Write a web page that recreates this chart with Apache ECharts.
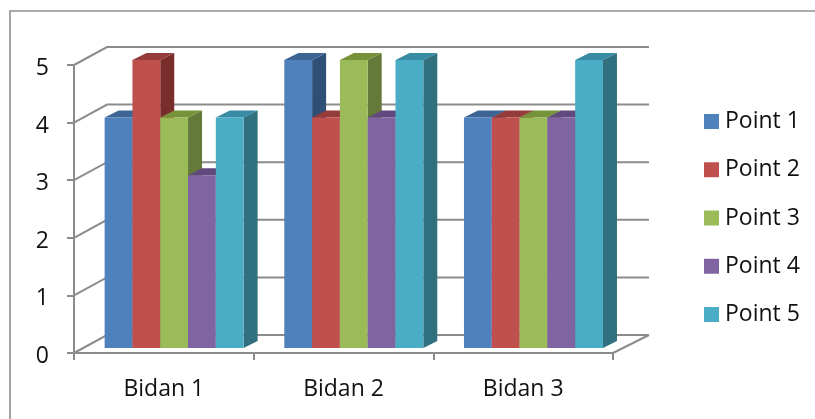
<!DOCTYPE html>
<html>
<head>
<meta charset="utf-8">
<style>html,body{margin:0;padding:0;background:#fff}#chart{width:815px;height:419px}</style>
<script src="https://cdn.jsdelivr.net/npm/echarts@6/dist/echarts.min.js"></script>
</head>
<body>
<div id="chart"></div>
<script>
// Three midwives scored on five points.
const categories = ['Bidan 1', 'Bidan 2', 'Bidan 3'];
const seriesNames = ['Point 1', 'Point 2', 'Point 3', 'Point 4', 'Point 5'];
const point1 = [4, 5, 4];
const point2 = [5, 4, 4];
const point3 = [4, 5, 4];
const point4 = [3, 4, 4];
const point5 = [4, 5, 5];
const yTicks = [0, 1, 2, 3, 4, 5];

const frontColors = ['#4F81BD', '#C0504D', '#9BBB59', '#8064A2', '#4BACC6'];
const topColors = ['#3C6494', '#953B39', '#779339', '#60497C', '#378BA3'];
const sideColors = ['#2F4F76', '#7A2E2C', '#64793A', '#4D3B64', '#31707F'];
const lineColor = '#8C8C8C';

const allPoints = [point1, point2, point3, point4, point5];

// Shear of the box: the back wall sits up and to the right of the front plane.
const wallDx = 33, wallDy = -18;
// A bar stands part of the way into the box and has its own shallow depth.
const barDx = 10.3, barDy = -5, barDepthX = 14, barDepthY = -7, barWidth = 27.8;

function renderBar(seriesIndex) {
  return function (params, api) {
    const c = api.coord([api.value(0), api.value(1)]);
    const base = api.coord([api.value(0), 0]);
    const x = c[0] + barDx + (seriesIndex - 2.5) * barWidth;
    const top = c[1] + barDy;
    const bottom = base[1] + barDy;
    const r = x + barWidth;
    return {
      type: 'group',
      children: [
        { type: 'polygon', shape: { points: [[r, top], [r + barDepthX, top + barDepthY], [r + barDepthX, bottom + barDepthY], [r, bottom]] },
          style: { fill: sideColors[seriesIndex] } },
        { type: 'polygon', shape: { points: [[x, top], [x + barDepthX, top + barDepthY], [r + barDepthX, top + barDepthY], [r, top]] },
          style: { fill: topColors[seriesIndex] } },
        { type: 'rect', shape: { x: x, y: top, width: barWidth, height: bottom - top },
          style: { fill: frontColors[seriesIndex] } }
      ]
    };
  };
}

// Gridlines run from the front edge back along the left wall, then across the back wall.
function renderWallLine(params, api) {
  const sys = params.coordSys;
  const p = api.coord([0, api.value(0)]);
  const left = sys.x, right = sys.x + sys.width;
  const children = [{
    type: 'polyline',
    shape: { points: [[left, p[1]], [left + wallDx, p[1] + wallDy], [right + wallDx + 3, p[1] + wallDy]] },
    style: { stroke: lineColor, lineWidth: 2, fill: null }
  }];
  if (api.value(0) === 0) {
    children.push({
      type: 'line',
      shape: { x1: right, y1: p[1], x2: right + wallDx + 3, y2: p[1] + wallDy },
      style: { stroke: lineColor, lineWidth: 2 }
    });
  }
  return { type: 'group', children: children };
}

const barSeries = seriesNames.map((name, i) => ({
  name: name,
  type: 'custom',
  clip: false,
  z: 3,
  itemStyle: { color: frontColors[i] },
  renderItem: renderBar(i),
  encode: { x: 0, y: 1 },
  data: categories.map((_, c) => [c, allPoints[i][c]])
}));

const chart = echarts.init(document.getElementById('chart'), null, { renderer: 'canvas' });
chart.setOption({
  animation: false,
  backgroundColor: '#fff',
  textStyle: { fontFamily: 'Open Sans' },
  graphic: [{
    type: 'polyline',
    silent: true,
    z: 0,
    shape: { points: [[10, 425], [10, 11], [825, 11]] },
    style: { stroke: '#8E8E8E', lineWidth: 1.6, fill: null }
  }],
  legend: {
    orient: 'vertical',
    left: 704,
    top: 110,
    padding: 0,
    icon: 'rect',
    itemWidth: 15,
    itemHeight: 15,
    itemGap: 25.25,
    data: seriesNames,
    textStyle: { fontFamily: 'Open Sans', fontSize: 23, lineHeight: 23, color: '#111', padding: [0, 0, 0, 1] }
  },
  grid: { left: 74, right: 202, top: 65, bottom: 66 },
  xAxis: {
    type: 'category',
    data: categories,
    axisLine: { lineStyle: { color: lineColor, width: 2 } },
    axisTick: { show: true, length: 7, lineStyle: { color: lineColor, width: 2 } },
    axisLabel: { fontFamily: 'Open Sans', fontSize: 23, color: '#111', margin: 25 }
  },
  yAxis: {
    type: 'value',
    min: 0,
    max: 5,
    interval: 1,
    splitLine: { show: false },
    axisLine: { show: true, lineStyle: { color: lineColor, width: 2 } },
    axisTick: { show: true, length: 7, lineStyle: { color: lineColor, width: 2 } },
    axisLabel: {
      margin: 25,
      formatter: '{n|{value}}',
      rich: { n: { fontFamily: 'Open Sans', fontSize: 23, color: '#111', padding: [7, 0, 0, 0] } }
    }
  },
  series: [{
    type: 'custom',
    name: 'walls',
    clip: false,
    silent: true,
    z: 1,
    renderItem: renderWallLine,
    encode: { y: 0 },
    data: yTicks.map(v => [v])
  }].concat(barSeries)
});
</script>
</body>
</html>
